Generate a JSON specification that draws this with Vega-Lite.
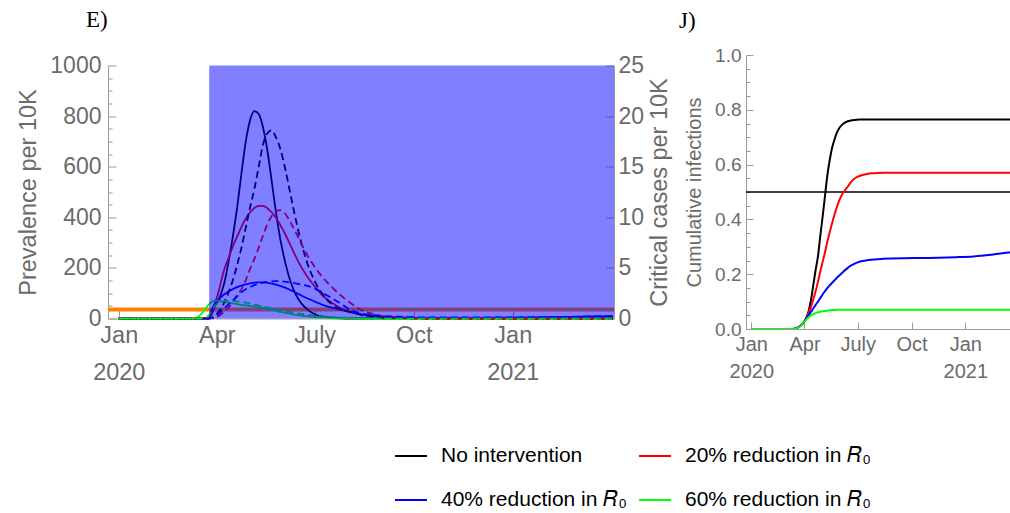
{
  "$schema": "https://vega.github.io/schema/vega-lite/v6.json",
  "padding": {"left": 16, "top": 8, "right": 0, "bottom": 0},
  "datasets": {
    "prevalence": [
      {"date": "2020-01-01", "none": 0, "r20": 0, "r40": 0, "r60": 0},
      {"date": "2020-03-01", "none": 0, "r20": 0, "r40": 0, "r60": 0},
      {"date": "2020-03-11", "none": 0, "r20": 0, "r40": 0, "r60": 0},
      {"date": "2020-03-15", "none": 0, "r20": 0, "r40": 0, "r60": 8},
      {"date": "2020-03-18", "none": 0, "r20": 0, "r40": 0, "r60": 20},
      {"date": "2020-03-21", "none": 0, "r20": 0, "r40": 0, "r60": 36},
      {"date": "2020-03-24", "none": 1, "r20": 2, "r40": 3, "r60": 52},
      {"date": "2020-03-27", "none": 15, "r20": 25, "r40": 32, "r60": 65},
      {"date": "2020-03-30", "none": 45, "r20": 58, "r40": 56, "r60": 71},
      {"date": "2020-04-02", "none": 68, "r20": 95, "r40": 72, "r60": 70},
      {"date": "2020-04-05", "none": 98, "r20": 145, "r40": 85, "r60": 68},
      {"date": "2020-04-08", "none": 140, "r20": 195, "r40": 96, "r60": 66},
      {"date": "2020-04-12", "none": 225, "r20": 240, "r40": 107, "r60": 63},
      {"date": "2020-04-16", "none": 325, "r20": 285, "r40": 116, "r60": 60},
      {"date": "2020-04-20", "none": 440, "r20": 325, "r40": 124, "r60": 57},
      {"date": "2020-04-24", "none": 575, "r20": 362, "r40": 130, "r60": 54},
      {"date": "2020-04-28", "none": 700, "r20": 395, "r40": 135, "r60": 52},
      {"date": "2020-05-02", "none": 785, "r20": 420, "r40": 139, "r60": 50},
      {"date": "2020-05-06", "none": 820, "r20": 437, "r40": 142, "r60": 47},
      {"date": "2020-05-10", "none": 808, "r20": 445, "r40": 143, "r60": 45},
      {"date": "2020-05-14", "none": 755, "r20": 445, "r40": 143, "r60": 42},
      {"date": "2020-05-18", "none": 665, "r20": 436, "r40": 141, "r60": 38},
      {"date": "2020-05-22", "none": 545, "r20": 420, "r40": 138, "r60": 34},
      {"date": "2020-05-26", "none": 420, "r20": 398, "r40": 134, "r60": 30},
      {"date": "2020-05-30", "none": 315, "r20": 370, "r40": 129, "r60": 26},
      {"date": "2020-06-04", "none": 215, "r20": 330, "r40": 121, "r60": 22},
      {"date": "2020-06-09", "none": 140, "r20": 285, "r40": 111, "r60": 18},
      {"date": "2020-06-14", "none": 90, "r20": 240, "r40": 101, "r60": 14},
      {"date": "2020-06-19", "none": 58, "r20": 200, "r40": 90, "r60": 11},
      {"date": "2020-06-25", "none": 33, "r20": 160, "r40": 78, "r60": 8},
      {"date": "2020-07-01", "none": 17, "r20": 127, "r40": 67, "r60": 6},
      {"date": "2020-07-09", "none": 7, "r20": 88, "r40": 53, "r60": 4},
      {"date": "2020-07-17", "none": 3, "r20": 62, "r40": 43, "r60": 2},
      {"date": "2020-07-25", "none": 1, "r20": 41, "r40": 35, "r60": 1},
      {"date": "2020-08-03", "none": 0, "r20": 27, "r40": 25, "r60": 0.5},
      {"date": "2020-08-13", "none": 0, "r20": 16, "r40": 16, "r60": 0},
      {"date": "2020-08-28", "none": 0, "r20": 8, "r40": 8, "r60": 0},
      {"date": "2020-09-17", "none": 0, "r20": 3, "r40": 4, "r60": 0},
      {"date": "2020-10-17", "none": 0, "r20": 1, "r40": 2, "r60": 0},
      {"date": "2020-11-16", "none": 0, "r20": 0, "r40": 2, "r60": 0},
      {"date": "2020-12-16", "none": 0, "r20": 0, "r40": 3, "r60": 0},
      {"date": "2021-01-15", "none": 0, "r20": 0, "r40": 4, "r60": 0},
      {"date": "2021-02-14", "none": 0, "r20": 0, "r40": 6, "r60": 0},
      {"date": "2021-03-16", "none": 0, "r20": 0, "r40": 8, "r60": 0},
      {"date": "2021-04-04", "none": 0, "r20": 0, "r40": 9, "r60": 0}
    ],
    "critical": [
      {"date": "2020-01-01", "none": 0, "r20": 0, "r40": 0, "r60": 0},
      {"date": "2020-03-01", "none": 0, "r20": 0, "r40": 0, "r60": 0},
      {"date": "2020-03-11", "none": 0, "r20": 0, "r40": 0, "r60": 0},
      {"date": "2020-03-15", "none": 0, "r20": 0, "r40": 0, "r60": 0},
      {"date": "2020-03-18", "none": 0, "r20": 0, "r40": 0, "r60": 0.02},
      {"date": "2020-03-21", "none": 0, "r20": 0, "r40": 0, "r60": 0.1},
      {"date": "2020-03-24", "none": 0, "r20": 0, "r40": 0, "r60": 0.25},
      {"date": "2020-03-27", "none": 0.05, "r20": 0.03, "r40": 0.03, "r60": 0.7},
      {"date": "2020-03-30", "none": 0.3, "r20": 0.1, "r40": 0.15, "r60": 1.2},
      {"date": "2020-04-02", "none": 0.55, "r20": 0.2, "r40": 0.35, "r60": 1.5},
      {"date": "2020-04-05", "none": 1.0, "r20": 0.4, "r40": 0.65, "r60": 1.65},
      {"date": "2020-04-08", "none": 1.6, "r20": 0.7, "r40": 1.0, "r60": 1.72},
      {"date": "2020-04-12", "none": 2.6, "r20": 1.1, "r40": 1.4, "r60": 1.75},
      {"date": "2020-04-16", "none": 3.8, "r20": 1.65, "r40": 1.8, "r60": 1.74},
      {"date": "2020-04-20", "none": 5.3, "r20": 2.3, "r40": 2.2, "r60": 1.7},
      {"date": "2020-04-24", "none": 7.0, "r20": 2.9, "r40": 2.6, "r60": 1.64},
      {"date": "2020-04-28", "none": 9.0, "r20": 3.8, "r40": 2.9, "r60": 1.56},
      {"date": "2020-05-02", "none": 11.0, "r20": 4.9, "r40": 3.1, "r60": 1.47},
      {"date": "2020-05-06", "none": 12.8, "r20": 5.9, "r40": 3.3, "r60": 1.37},
      {"date": "2020-05-10", "none": 15.0, "r20": 7.0, "r40": 3.45, "r60": 1.28},
      {"date": "2020-05-14", "none": 17.2, "r20": 8.2, "r40": 3.55, "r60": 1.19},
      {"date": "2020-05-18", "none": 18.3, "r20": 9.3, "r40": 3.62, "r60": 1.1},
      {"date": "2020-05-22", "none": 18.6, "r20": 10.1, "r40": 3.67, "r60": 1.01},
      {"date": "2020-05-26", "none": 17.9, "r20": 10.6, "r40": 3.7, "r60": 0.92},
      {"date": "2020-05-30", "none": 16.8, "r20": 10.7, "r40": 3.68, "r60": 0.83},
      {"date": "2020-06-04", "none": 14.6, "r20": 10.3, "r40": 3.62, "r60": 0.73},
      {"date": "2020-06-09", "none": 12.0, "r20": 9.4, "r40": 3.55, "r60": 0.62},
      {"date": "2020-06-14", "none": 9.5, "r20": 8.4, "r40": 3.45, "r60": 0.53},
      {"date": "2020-06-19", "none": 7.3, "r20": 7.3, "r40": 3.35, "r60": 0.45},
      {"date": "2020-06-25", "none": 5.2, "r20": 6.1, "r40": 3.2, "r60": 0.36},
      {"date": "2020-07-01", "none": 3.7, "r20": 5.1, "r40": 2.95, "r60": 0.28},
      {"date": "2020-07-09", "none": 2.3, "r20": 4.0, "r40": 2.5, "r60": 0.2},
      {"date": "2020-07-17", "none": 1.4, "r20": 3.1, "r40": 2.0, "r60": 0.13},
      {"date": "2020-07-25", "none": 0.9, "r20": 2.3, "r40": 1.5, "r60": 0.08},
      {"date": "2020-08-03", "none": 0.65, "r20": 1.55, "r40": 0.85, "r60": 0.05},
      {"date": "2020-08-13", "none": 0.35, "r20": 0.85, "r40": 0.5, "r60": 0.02},
      {"date": "2020-08-28", "none": 0.15, "r20": 0.35, "r40": 0.3, "r60": 0},
      {"date": "2020-09-17", "none": 0.05, "r20": 0.1, "r40": 0.18, "r60": 0},
      {"date": "2020-10-17", "none": 0, "r20": 0.02, "r40": 0.1, "r60": 0},
      {"date": "2020-11-16", "none": 0, "r20": 0, "r40": 0.1, "r60": 0},
      {"date": "2020-12-16", "none": 0, "r20": 0, "r40": 0.1, "r60": 0},
      {"date": "2021-01-15", "none": 0, "r20": 0, "r40": 0.12, "r60": 0},
      {"date": "2021-02-14", "none": 0, "r20": 0, "r40": 0.15, "r60": 0},
      {"date": "2021-03-16", "none": 0, "r20": 0, "r40": 0.2, "r60": 0},
      {"date": "2021-04-04", "none": 0, "r20": 0, "r40": 0.24, "r60": 0}
    ],
    "cumulative": [
      {"date": "2020-01-01", "none": 0, "r20": 0, "r40": 0, "r60": 0},
      {"date": "2020-03-01", "none": 0, "r20": 0, "r40": 0, "r60": 0},
      {"date": "2020-03-11", "none": 0, "r20": 0, "r40": 0, "r60": 0},
      {"date": "2020-03-15", "none": 0.001, "r20": 0.001, "r40": 0.001, "r60": 0.001},
      {"date": "2020-03-18", "none": 0.003, "r20": 0.003, "r40": 0.003, "r60": 0.002},
      {"date": "2020-03-21", "none": 0.006, "r20": 0.006, "r40": 0.006, "r60": 0.005},
      {"date": "2020-03-24", "none": 0.01, "r20": 0.01, "r40": 0.01, "r60": 0.009},
      {"date": "2020-03-27", "none": 0.015, "r20": 0.015, "r40": 0.015, "r60": 0.014},
      {"date": "2020-03-30", "none": 0.022, "r20": 0.022, "r40": 0.022, "r60": 0.022},
      {"date": "2020-04-02", "none": 0.032, "r20": 0.032, "r40": 0.032, "r60": 0.03},
      {"date": "2020-04-05", "none": 0.045, "r20": 0.044, "r40": 0.042, "r60": 0.037},
      {"date": "2020-04-08", "none": 0.065, "r20": 0.058, "r40": 0.05, "r60": 0.043},
      {"date": "2020-04-12", "none": 0.105, "r20": 0.08, "r40": 0.062, "r60": 0.049},
      {"date": "2020-04-16", "none": 0.16, "r20": 0.108, "r40": 0.075, "r60": 0.054},
      {"date": "2020-04-20", "none": 0.215, "r20": 0.138, "r40": 0.088, "r60": 0.058},
      {"date": "2020-04-24", "none": 0.265, "r20": 0.172, "r40": 0.1, "r60": 0.061},
      {"date": "2020-04-28", "none": 0.34, "r20": 0.21, "r40": 0.113, "r60": 0.063},
      {"date": "2020-05-02", "none": 0.41, "r20": 0.245, "r40": 0.126, "r60": 0.065},
      {"date": "2020-05-06", "none": 0.485, "r20": 0.28, "r40": 0.138, "r60": 0.066},
      {"date": "2020-05-10", "none": 0.56, "r20": 0.318, "r40": 0.149, "r60": 0.067},
      {"date": "2020-05-14", "none": 0.615, "r20": 0.352, "r40": 0.159, "r60": 0.068},
      {"date": "2020-05-18", "none": 0.66, "r20": 0.385, "r40": 0.168, "r60": 0.069},
      {"date": "2020-05-22", "none": 0.69, "r20": 0.415, "r40": 0.177, "r60": 0.069},
      {"date": "2020-05-26", "none": 0.715, "r20": 0.443, "r40": 0.186, "r60": 0.07},
      {"date": "2020-05-30", "none": 0.732, "r20": 0.468, "r40": 0.194, "r60": 0.07},
      {"date": "2020-06-04", "none": 0.745, "r20": 0.49, "r40": 0.204, "r60": 0.0705},
      {"date": "2020-06-09", "none": 0.753, "r20": 0.506, "r40": 0.214, "r60": 0.0705},
      {"date": "2020-06-14", "none": 0.758, "r20": 0.52, "r40": 0.223, "r60": 0.0705},
      {"date": "2020-06-19", "none": 0.761, "r20": 0.535, "r40": 0.231, "r60": 0.0705},
      {"date": "2020-06-25", "none": 0.763, "r20": 0.548, "r40": 0.238, "r60": 0.0705},
      {"date": "2020-07-01", "none": 0.764, "r20": 0.556, "r40": 0.243, "r60": 0.0705},
      {"date": "2020-07-09", "none": 0.765, "r20": 0.562, "r40": 0.248, "r60": 0.0705},
      {"date": "2020-07-17", "none": 0.765, "r20": 0.566, "r40": 0.251, "r60": 0.0705},
      {"date": "2020-07-25", "none": 0.765, "r20": 0.568, "r40": 0.253, "r60": 0.0705},
      {"date": "2020-08-03", "none": 0.765, "r20": 0.569, "r40": 0.255, "r60": 0.0705},
      {"date": "2020-08-13", "none": 0.765, "r20": 0.57, "r40": 0.256, "r60": 0.0705},
      {"date": "2020-08-28", "none": 0.765, "r20": 0.57, "r40": 0.257, "r60": 0.0705},
      {"date": "2020-09-17", "none": 0.765, "r20": 0.57, "r40": 0.258, "r60": 0.0705},
      {"date": "2020-10-17", "none": 0.765, "r20": 0.57, "r40": 0.259, "r60": 0.0705},
      {"date": "2020-11-16", "none": 0.765, "r20": 0.57, "r40": 0.26, "r60": 0.0705},
      {"date": "2020-12-16", "none": 0.765, "r20": 0.57, "r40": 0.262, "r60": 0.0705},
      {"date": "2021-01-15", "none": 0.765, "r20": 0.57, "r40": 0.265, "r60": 0.0705},
      {"date": "2021-02-14", "none": 0.765, "r20": 0.57, "r40": 0.271, "r60": 0.0705},
      {"date": "2021-03-16", "none": 0.765, "r20": 0.57, "r40": 0.279, "r60": 0.0705},
      {"date": "2021-04-04", "none": 0.765, "r20": 0.57, "r40": 0.284, "r60": 0.0705}
    ]
  },
  "spacing": 132,
  "center": true,
  "bounds": "flush",
  "hconcat": [
    {
      "width": 506,
      "height": 253,
      "title": {"text": "E)", "anchor": "start", "frame": "group", "dx": -22, "offset": 23, "font": "Liberation Serif", "fontSize": 23, "fontWeight": "normal", "color": "#000000"},
      "resolve": {"scale": {"y": "independent"}},
      "layer": [
        {
          "data": {"values": [{"capacity": 0.9}]},
          "mark": {"type": "rule", "color": "#ff8000", "strokeWidth": 4},
          "encoding": {
            "y": {"field": "capacity", "type": "quantitative", "scale": {"domain": [0, 25], "nice": false}, "axis": null}
          }
        },
        {
          "data": {"name": "prevalence"},
          "transform": [{"fold": ["none", "r20", "r40", "r60"], "as": ["scenario", "value"]}],
          "mark": {"type": "line", "strokeWidth": 1.8, "interpolate": "monotone"},
          "encoding": {
            "x": {
              "field": "date", "type": "temporal",
              "scale": {"type": "utc", "domain": [{"year": 2019, "month": 12, "date": 22, "utc": true}, {"year": 2021, "month": 4, "date": 5, "utc": true}], "nice": false},
              "axis": {
                "title": null,
                "values": [
                  {"year": 2020, "month": 1, "date": 1, "utc": true},
                  {"year": 2020, "month": 4, "date": 1, "utc": true},
                  {"year": 2020, "month": 7, "date": 1, "utc": true},
                  {"year": 2020, "month": 10, "date": 1, "utc": true},
                  {"year": 2021, "month": 1, "date": 1, "utc": true}
                ],
                "labelExpr": "utcmonth(datum.value) == 0 ? ['Jan', utcFormat(datum.value, '%Y')] : utcmonth(datum.value) == 3 ? 'Apr' : utcmonth(datum.value) == 6 ? 'July' : 'Oct'",
                "labelFontSize": 23.5, "labelLineHeight": 37, "labelPadding": 13, "tickSize": -8, "labelFlush": false
              }
            },
            "y": {
              "field": "value", "type": "quantitative",
              "scale": {"domain": [0, 1000], "nice": false},
              "axis": {"orient": "left", "title": "Prevalence per 10K", "values": [0, 200, 400, 600, 800, 1000], "format": "d", "tickSize": -8, "labelPadding": 15, "labelFontSize": 23, "titleFontSize": 23.5, "titlePadding": 9}
            },
            "color": {
              "field": "scenario", "type": "nominal",
              "scale": {"domain": ["none", "r20", "r40", "r60"], "range": ["#000000", "#ff0000", "#0000ff", "#00ff00"]},
              "legend": {"title": null, "orient": "none", "legendX": 286, "legendY": 384, "direction": "horizontal", "columns": 2, "gridAlign": "none", "symbolType": "stroke", "symbolSize": 1024, "symbolStrokeWidth": 2, "symbolDash": [1, 0], "labelFontSize": 21, "labelFont": "Liberation Sans", "labelColor": "#000000", "labelLimit": 400, "labelOffset": 13, "columnPadding": 8, "rowPadding": 17, "labelExpr": "datum.value == 'none' ? 'No intervention' : datum.value == 'r20' ? '20% reduction in 𝑅₀' : datum.value == 'r40' ? '40% reduction in 𝑅₀' : '60% reduction in 𝑅₀'"}
            }
          }
        },
        {
          "data": {"name": "critical"},
          "transform": [{"fold": ["none", "r20", "r40", "r60"], "as": ["scenario", "value"]}],
          "mark": {"type": "line", "strokeWidth": 1.8, "strokeDash": [7, 4], "interpolate": "monotone"},
          "encoding": {
            "x": {"field": "date", "type": "temporal"},
            "y": {
              "field": "value", "type": "quantitative",
              "scale": {"domain": [0, 25], "nice": false},
              "axis": {"orient": "right", "title": "Critical cases per 10K", "values": [0, 5, 10, 15, 20, 25], "tickSize": -8, "labelPadding": 12, "labelFontSize": 23, "titleFontSize": 23.5, "titlePadding": 4, "titleAngle": 270, "titleBaseline": "top"}
            },
            "color": {
              "field": "scenario", "type": "nominal",
              "scale": {"domain": ["none", "r20", "r40", "r60"], "range": ["#000000", "#ff0000", "#0000ff", "#00ff00"]},
              "legend": {"title": null, "orient": "none", "legendX": 286, "legendY": 384, "direction": "horizontal", "columns": 2, "gridAlign": "none", "symbolType": "stroke", "symbolSize": 1024, "symbolStrokeWidth": 2, "symbolDash": [1, 0], "labelFontSize": 21, "labelFont": "Liberation Sans", "labelColor": "#000000", "labelLimit": 400, "labelOffset": 13, "columnPadding": 8, "rowPadding": 17, "labelExpr": "datum.value == 'none' ? 'No intervention' : datum.value == 'r20' ? '20% reduction in 𝑅₀' : datum.value == 'r40' ? '40% reduction in 𝑅₀' : '60% reduction in 𝑅₀'"}
            }
          }
        },
        {
          "data": {"values": [{"start": "2020-03-25", "end": "2021-04-05", "low": 0, "high": 1000}]},
          "mark": {"type": "rect", "color": "#0000ff", "opacity": 0.5},
          "encoding": {
            "x": {"field": "start", "type": "temporal"},
            "x2": {"field": "end"},
            "y": {"field": "low", "type": "quantitative", "scale": {"domain": [0, 1000], "nice": false}, "axis": null},
            "y2": {"field": "high"}
          }
        },
        {
          "data": {"values": [{"low": 0}]},
          "mark": {"type": "rule", "opacity": 0},
          "encoding": {
            "y": {"field": "low", "type": "quantitative", "scale": {"domain": [0, 1000], "nice": false},
              "axis": {"orient": "left", "title": null, "labels": false, "domain": false, "tickSize": -4, "values": [50, 100, 150, 250, 300, 350, 450, 500, 550, 650, 700, 750, 850, 900, 950]}}
          }
        }
      ]
    },
    {
      "width": 265,
      "height": 274,
      "title": {"text": "J)", "anchor": "start", "frame": "group", "dx": -67, "offset": 13, "font": "Liberation Serif", "fontSize": 23, "fontWeight": "normal", "color": "#000000"},
      "resolve": {"axis": {"y": "independent"}},
      "layer": [
        {
          "data": {"values": [{"level": 0.5}]},
          "mark": {"type": "rule", "color": "#000000", "strokeWidth": 1.5},
          "encoding": {
            "y": {"field": "level", "type": "quantitative", "scale": {"domain": [0, 1], "nice": false}, "axis": null}
          }
        },
        {
          "data": {"name": "cumulative"},
          "transform": [{"fold": ["none", "r20", "r40", "r60"], "as": ["scenario", "value"]}],
          "mark": {"type": "line", "strokeWidth": 2, "interpolate": "monotone", "clip": true},
          "encoding": {
            "x": {
              "field": "date", "type": "temporal",
              "scale": {"type": "utc", "domain": [{"year": 2019, "month": 12, "date": 23, "utc": true}, {"year": 2021, "month": 3, "date": 20, "utc": true}], "nice": false},
              "axis": {
                "title": null,
                "values": [
                  {"year": 2020, "month": 1, "date": 1, "utc": true},
                  {"year": 2020, "month": 4, "date": 1, "utc": true},
                  {"year": 2020, "month": 7, "date": 1, "utc": true},
                  {"year": 2020, "month": 10, "date": 1, "utc": true},
                  {"year": 2021, "month": 1, "date": 1, "utc": true}
                ],
                "labelExpr": "utcmonth(datum.value) == 0 ? ['Jan', utcFormat(datum.value, '%Y')] : utcmonth(datum.value) == 3 ? 'Apr' : utcmonth(datum.value) == 6 ? 'July' : 'Oct'",
                "labelFontSize": 20, "labelLineHeight": 27, "labelPadding": 12, "tickSize": -7, "labelFlush": false
              }
            },
            "y": {
              "field": "value", "type": "quantitative",
              "scale": {"domain": [0, 1], "nice": false},
              "axis": {"orient": "left", "title": "Cumulative infections", "values": [0, 0.2, 0.4, 0.6, 0.8, 1], "format": ".1f", "tickSize": -7, "labelPadding": 12, "labelFontSize": 19, "titleFontSize": 20, "titlePadding": 10}
            },
            "color": {
              "field": "scenario", "type": "nominal",
              "scale": {"domain": ["none", "r20", "r40", "r60"], "range": ["#000000", "#ff0000", "#0000ff", "#00ff00"]},
              "legend": {"title": null, "orient": "none", "legendX": 286, "legendY": 384, "direction": "horizontal", "columns": 2, "gridAlign": "none", "symbolType": "stroke", "symbolSize": 1024, "symbolStrokeWidth": 2, "symbolDash": [1, 0], "labelFontSize": 21, "labelFont": "Liberation Sans", "labelColor": "#000000", "labelLimit": 400, "labelOffset": 13, "columnPadding": 8, "rowPadding": 17, "labelExpr": "datum.value == 'none' ? 'No intervention' : datum.value == 'r20' ? '20% reduction in 𝑅₀' : datum.value == 'r40' ? '40% reduction in 𝑅₀' : '60% reduction in 𝑅₀'"}
            }
          }
        },
        {
          "data": {"values": [{"level": 0}]},
          "mark": {"type": "rule", "opacity": 0},
          "encoding": {
            "y": {"field": "level", "type": "quantitative", "scale": {"domain": [0, 1], "nice": false},
              "axis": {"orient": "left", "title": null, "labels": false, "domain": false, "tickSize": -4, "values": [0.05, 0.1, 0.15, 0.25, 0.3, 0.35, 0.45, 0.5, 0.55, 0.65, 0.7, 0.75, 0.85, 0.9, 0.95]}}
          }
        }
      ]
    }
  ],
  "config": {
    "view": {"stroke": null},
    "font": "Liberation Sans",
    "axis": {
      "grid": false,
      "labelFont": "Liberation Sans",
      "titleFont": "Liberation Sans",
      "labelColor": "#6b6b6b",
      "titleColor": "#6b6b6b",
      "titleFontWeight": "normal",
      "domainColor": "#9a9a9a",
      "tickColor": "#9a9a9a",
      "labelOverlap": false
    }
  }
}
